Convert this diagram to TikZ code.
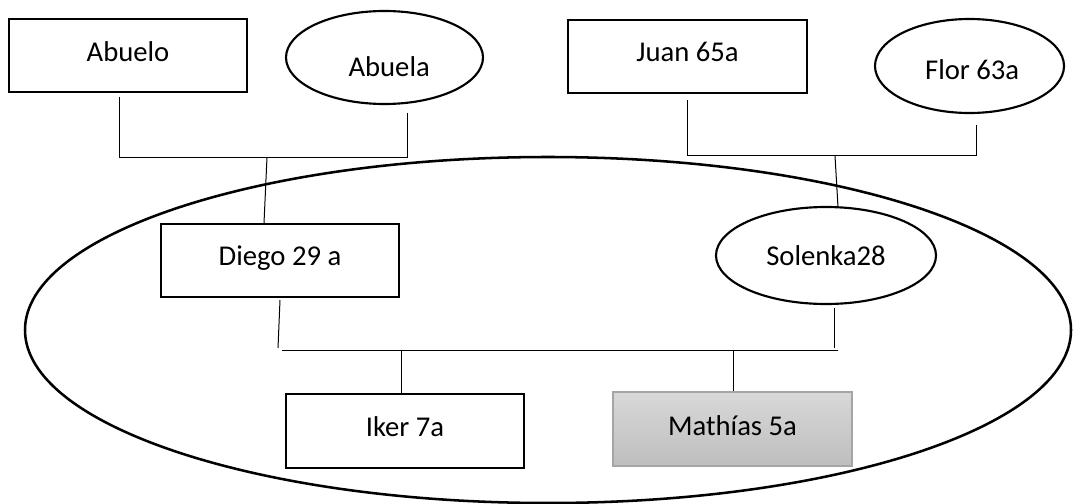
\documentclass[tikz,border=0pt]{standalone}
\usepackage{fontspec}
\setmainfont{Carlito}
\usetikzlibrary{shapes.geometric}

\definecolor{grisarriba}{RGB}{216,216,216}
\definecolor{grisabajo}{RGB}{190,190,190}
\definecolor{grisborde}{RGB}{165,165,165}

\tikzset{
  caja/.style={draw, rectangle, line width=0.8pt, inner sep=0pt, text depth=4pt,
    font=\fontsize{21.5}{26}\selectfont},
  ovalo/.style={draw, ellipse, line width=1.6pt, inner sep=0pt, text depth=4pt,
    font=\fontsize{21.5}{26}\selectfont},
  rama/.style={line width=0.75pt},
}

\begin{document}
\begin{tikzpicture}[x=0.75pt,y=-0.75pt]
        \useasboundingbox (0,0) rectangle (1073,503);
        % la familia
        \draw[line width=1.9pt](548,330) ellipse [x radius=523, y radius=173];
        % abuelos
        \node[caja, minimum width=178.5pt, minimum height=54.75pt, text height=12.25pt](abuelo) at (128,55.5){Abuelo};
        \node[ovalo, minimum width=147.75pt, minimum height=69.75pt, text height=33pt](abuela) at (384.5,57.5){\hspace{7pt}Abuela};
        \node[caja, minimum width=179.25pt, minimum height=54.75pt, text height=10.75pt](juan) at (687.5,56.5){Juan 65a};
        \node[ovalo, minimum width=141.75pt, minimum height=70.5pt, text height=24pt](flor) at (969.5,66){\hspace{4pt}Flor 63a};
        % padres
        \node[caja, minimum width=178.5pt, minimum height=54.75pt, text height=11.8pt](diego) at (280,260.5){Diego 29 a};
        \node[ovalo, minimum width=165pt, minimum height=72.75pt, text height=18.25pt](solenka) at (826,255.5){Solenka28};
        % hijos
        \node[caja, minimum width=178.5pt, minimum height=55.5pt, text height=11.5pt](iker) at (405,431){Iker 7a};
        \node[caja, draw=grisborde, top color=grisarriba, bottom color=grisabajo, minimum width=179.25pt, minimum height=55.5pt, text height=13pt](mathias) at (732.5,429){Mathías 5a};
        % uniones
        \coordinate (abueloB) at (119,97);
        \coordinate (abuelaB) at (407,113);
        \coordinate (abuelosH) at (119,157);
        \coordinate (abuelosM) at (267,157);
        \coordinate (diegoT) at (264,223);
        \coordinate (juanB) at (687,100);
        \coordinate (florB) at (976,125);
        \coordinate (juanH) at (687,155);
        \coordinate (juanM) at (835,156);
        \coordinate (solenkaT) at (838,207);
        \coordinate (diegoB) at (280,300);
        \coordinate (diegoH) at (278,348);
        \coordinate (padresH) at (282,350);
        \coordinate (padresR) at (838,350);
        \coordinate (solenkaB) at (834,308);
        \coordinate (solenkaH) at (834,348);
        \coordinate (ikerT) at (401,351);
        \coordinate (mathiasT) at (733,351);
        \draw[rama](abueloB)--(abuelosH)-|(abuelaB);
        \draw[rama](abuelosM)--(diegoT);
        \draw[rama](juanB)--(juanH)-|(florB);
        \draw[rama](juanM)--(solenkaT);
        \draw[rama](diegoB)--(diegoH);
        \draw[rama](padresH)--(padresR);
        \draw[rama](solenkaB)--(solenkaH);
        \draw[rama](ikerT)--(iker.north -| ikerT);
        \draw[rama](mathiasT)--(mathias.north -| mathiasT);
    \end{tikzpicture}
\end{document}
